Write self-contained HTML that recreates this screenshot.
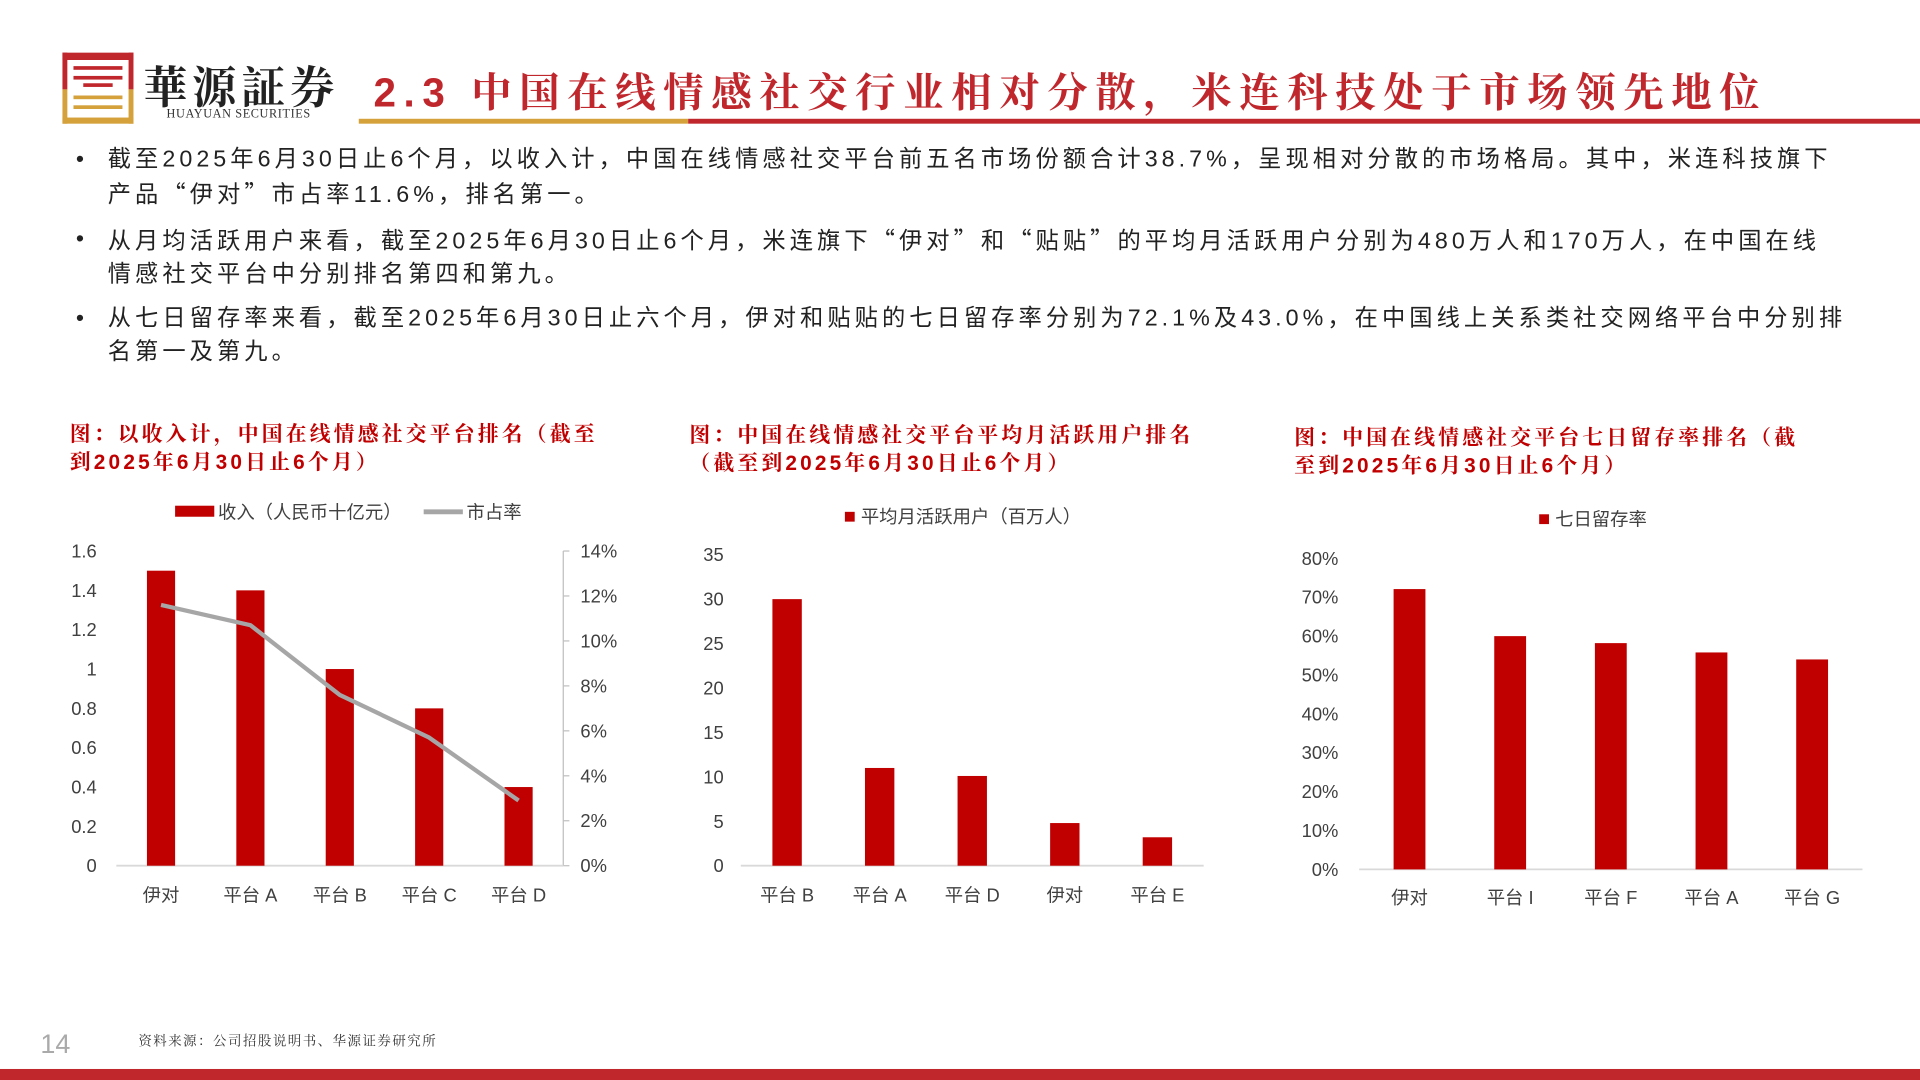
<!DOCTYPE html>
<html><head><meta charset="utf-8">
<style>
html,body{margin:0;padding:0;background:#fff;}
body{width:1920px;height:1080px;overflow:hidden;position:relative;font-family:"Liberation Sans","Noto Sans CJK SC",sans-serif;}
#wrap{position:absolute;left:0;top:0;width:1568px;height:882px;transform:scale(1.22449);transform-origin:0 0;}
.abs{position:absolute;white-space:nowrap;}
.bul{position:absolute;left:62px;font-size:19px;color:#222;letter-spacing:3.3px;line-height:27px;white-space:nowrap;}
.bul span.dot{position:absolute;left:0;top:0;}
.bul div{padding-left:26px;}
.q{font-family:"Noto Sans CJK SC",sans-serif;}
.ct{position:absolute;color:#c00000;font-weight:bold;font-size:17px;line-height:23px;letter-spacing:2.6px;font-family:"Liberation Sans","Noto Serif CJK SC",serif;white-space:nowrap;}
svg text{font-family:"Liberation Sans","Noto Sans CJK SC",sans-serif;}
</style></head>
<body>
<div id="wrap">
  <svg class="abs" style="left:50px;top:42px" width="62" height="60">
    <rect x="1" y="1" width="58" height="6" fill="#c0272d"/>
    <rect x="1" y="1" width="4" height="30" fill="#c0272d"/>
    <rect x="55" y="1" width="4" height="30" fill="#c0272d"/>
    <rect x="10" y="12" width="40" height="3" fill="#c0272d"/>
    <rect x="10" y="20" width="40" height="3" fill="#c0272d"/>
    <rect x="18" y="26" width="24" height="3" fill="#c0272d"/>
    <rect x="1" y="31" width="4" height="28" fill="#d4a13a"/>
    <rect x="55" y="31" width="4" height="28" fill="#d4a13a"/>
    <rect x="1" y="54" width="58" height="5" fill="#d4a13a"/>
    <rect x="10" y="36" width="40" height="3" fill="#d4a13a"/>
    <rect x="10" y="44" width="40" height="3" fill="#d4a13a"/>
  </svg>
  <div class="abs" style="left:117px;top:44px;font-size:36px;font-weight:bold;color:#222;letter-spacing:4px;font-family:'Liberation Serif','Noto Serif CJK SC',serif">華源証券</div>
  <div class="abs" style="left:136px;top:88px;font-size:10px;color:#333;letter-spacing:0.5px;font-family:'Liberation Serif',serif">HUAYUAN SECURITIES</div>
  <div class="abs" style="left:305px;top:50px;font-size:33px;font-weight:bold;color:#c0272d;letter-spacing:6.2px;font-family:'Liberation Sans','Noto Serif CJK SC',serif">2.3 中国在线情感社交行业相对分散，米连科技处于市场领先地位</div>
  <div class="abs" style="left:293px;top:97px;width:269px;height:4px;background:#d4a13a"></div>
  <div class="abs" style="left:562px;top:97px;width:1006px;height:4px;background:#c0272d"></div>

  <div class="bul" style="top:117px"><span class="dot">•</span><div>截至2025年6月30日止6个月，以收入计，中国在线情感社交平台前五名市场份额合计38.7%，呈现相对分散的市场格局。其中，米连科技旗下<br>产品<span class="q">“</span>伊对<span class="q">”</span>市占率11.6%，排名第一。</div></div>
  <div class="bul" style="top:182px"><span class="dot">•</span><div>从月均活跃用户来看，截至2025年6月30日止6个月，米连旗下<span class="q">“</span>伊对<span class="q">”</span>和<span class="q">“</span>贴贴<span class="q">”</span>的平均月活跃用户分别为480万人和170万人，在中国在线<br>情感社交平台中分别排名第四和第九。</div></div>
  <div class="bul" style="top:247px"><span class="dot">•</span><div>从七日留存率来看，截至2025年6月30日止六个月，伊对和贴贴的七日留存率分别为72.1%及43.0%，在中国线上关系类社交网络平台中分别排<br>名第一及第九。</div></div>

  <div class="ct" style="left:57px;top:343px">图：以收入计，中国在线情感社交平台排名（截至<br>到2025年6月30日止6个月）</div>
  <div class="ct" style="left:563px;top:344px">图：中国在线情感社交平台平均月活跃用户排名<br>（截至到2025年6月30日止6个月）</div>
  <div class="ct" style="left:1057px;top:346px">图：中国在线情感社交平台七日留存率排名（截<br>至到2025年6月30日止6个月）</div>

  <svg id="svg1" class="abs" style="left:0;top:400px" width="520" height="360"></svg>
  <svg id="svg2" class="abs" style="left:520px;top:400px" width="500" height="360"></svg>
  <svg id="svg3" class="abs" style="left:1020px;top:400px" width="540" height="360"></svg>

  <div class="abs" style="left:33px;top:840px;font-size:22px;color:#aaa">14</div>
  <div class="abs" style="left:113px;top:842px;font-size:11px;color:#333;letter-spacing:1.2px;font-family:'Liberation Sans','Noto Serif CJK SC',serif">资料来源：公司招股说明书、华源证券研究所</div>
  <div class="abs" style="left:0;top:873px;width:1568px;height:9px;background:#c0272d"></div>
</div>
<script>
const c1Cats = ["伊对","平台 A","平台 B","平台 C","平台 D"];
const c1Revenue = [1.5,1.4,1.0,0.8,0.4];
const c1Share = [11.6,10.7,7.6,5.7,2.9];
const c1LeftTicks = ["0","0.2","0.4","0.6","0.8","1","1.2","1.4","1.6"];
const c1RightTicks = ["0%","2%","4%","6%","8%","10%","12%","14%"];
const c2Cats = ["平台 B","平台 A","平台 D","伊对","平台 E"];
const c2Mau = [30,11,10.1,4.8,3.2];
const c2Ticks = ["0","5","10","15","20","25","30","35"];
const c3Cats = ["伊对","平台 I","平台 F","平台 A","平台 G"];
const c3Retention = [72.1,60.0,58.2,55.8,54.0];
const c3Ticks = ["0%","10%","20%","30%","40%","50%","60%","70%","80%"];

const NS="http://www.w3.org/2000/svg";
function mk(svg,tag,attrs){const e=document.createElementNS(NS,tag);for(const k in attrs)e.setAttribute(k,attrs[k]);svg.appendChild(e);return e;}
function txt(svg,x,y,s,anchor,size){const t=mk(svg,"text",{x:x,y:y,"text-anchor":anchor,"font-size":size||15,fill:"#404040","dominant-baseline":"central"});t.textContent=s;return t;}

(function(){
  const s=document.getElementById("svg1");
  const x0=95,x1=460,yTop=50,yBot=307,maxL=1.6,maxR=14;
  const yL=v=>yBot-(v/maxL)*(yBot-yTop);
  const yR=v=>yBot-(v/maxR)*(yBot-yTop);
  const step=(x1-x0)/c1Cats.length;
  const xc=i=>x0+step*(i+0.5);
  c1LeftTicks.forEach(t=>{const e=txt(s,79,yL(parseFloat(t)),t,"end");
    
    });
  c1RightTicks.forEach(t=>{const v=parseFloat(t);const e=txt(s,474,yR(v),t,"start");
    
    
    mk(s,"line",{x1:x1,x2:x1+5,y1:yR(v),y2:yR(v),stroke:"#bfbfbf"});});
  const ax=mk(s,"line",{x1:x1,x2:x1,y1:yTop,y2:yBot,stroke:"#bfbfbf"});
  
  
  const base=mk(s,"line",{x1:x0,x2:x1,y1:yBot,y2:yBot,stroke:"#d9d9d9","stroke-width":1.5});
  
  
  c1Revenue.forEach((v,i)=>{const r=mk(s,"rect",{x:xc(i)-11.5,y:yL(v),width:23,height:yBot-yL(v),fill:"#c00000"});
    
    });
  const pts=c1Share.map((v,i)=>xc(i)+","+yR(v)).join(" ");
  const pl=mk(s,"polyline",{points:pts,fill:"none",stroke:"#a6a6a6","stroke-width":3.5,"stroke-linejoin":"round"});
  
  
  c1Cats.forEach((c,i)=>{const e=txt(s,xc(i),331,c,"middle");
    
    });
  const l1=mk(s,"rect",{x:143,y:13,width:32,height:9,fill:"#c00000"});
  
  
  const lt1=txt(s,178,18,"收入（人民币十亿元）","start");
  
  
  const l2=mk(s,"line",{x1:346,x2:378,y1:18,y2:18,stroke:"#a6a6a6","stroke-width":4});
  
  
  const lt2=txt(s,381,18,"市占率","start");
  
  
})();

(function(){
  const s=document.getElementById("svg2");
  const x0=85,x1=463,yTop=53,yBot=307,max=35;
  const y=v=>yBot-(v/max)*(yBot-yTop);
  const step=(x1-x0)/c2Cats.length;
  const xc=i=>x0+step*(i+0.5);
  c2Ticks.forEach(t=>{const e=txt(s,71,y(parseFloat(t)),t,"end");
    
    });
  const base=mk(s,"line",{x1:x0,x2:x1,y1:yBot,y2:yBot,stroke:"#d9d9d9","stroke-width":1.5});
  
  
  c2Mau.forEach((v,i)=>{const r=mk(s,"rect",{x:xc(i)-12,y:y(v),width:24,height:yBot-y(v),fill:"#c00000"});
    
    });
  c2Cats.forEach((c,i)=>{const e=txt(s,xc(i),331,c,"middle");
    
    });
  const l=mk(s,"rect",{x:170,y:18,width:8,height:8,fill:"#c00000"});
  
  
  const lt=txt(s,183,22,"平均月活跃用户（百万人）","start");
  
  
})();

(function(){
  const s=document.getElementById("svg3");
  const x0=90,x1=501,yTop=56,yBot=310,max=80;
  const y=v=>yBot-(v/max)*(yBot-yTop);
  const step=(x1-x0)/c3Cats.length;
  const xc=i=>x0+step*(i+0.5);
  c3Ticks.forEach(t=>{const e=txt(s,73,y(parseFloat(t)),t,"end");
    
    });
  const base=mk(s,"line",{x1:x0,x2:x1,y1:yBot,y2:yBot,stroke:"#d9d9d9","stroke-width":1.5});
  
  
  c3Retention.forEach((v,i)=>{const r=mk(s,"rect",{x:xc(i)-13,y:y(v),width:26,height:yBot-y(v),fill:"#c00000"});
    
    });
  c3Cats.forEach((c,i)=>{const e=txt(s,xc(i),333,c,"middle");
    
    });
  const l=mk(s,"rect",{x:237,y:20,width:8,height:8,fill:"#c00000"});
  
  
  const lt=txt(s,250,24,"七日留存率","start");
  
  
})();
</script>
</body></html>
